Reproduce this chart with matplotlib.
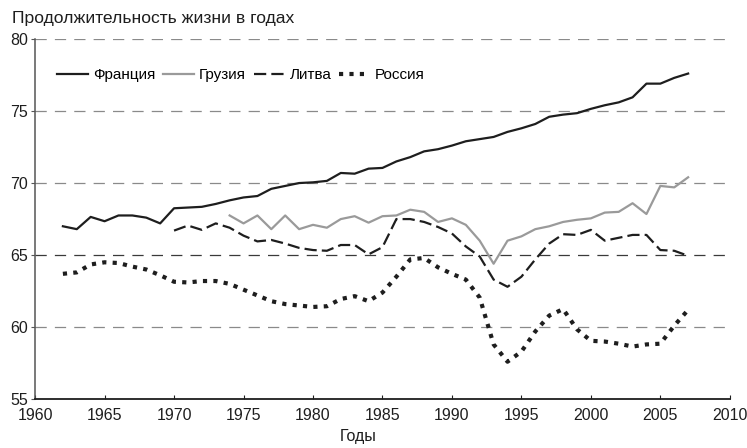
import matplotlib
matplotlib.use('Agg')
import matplotlib.pyplot as plt
from matplotlib import font_manager

names = {f.name for f in font_manager.fontManager.ttflist}
base = 'Liberation Sans Narrow' if 'Liberation Sans Narrow' in names else 'Liberation Sans'
plt.rcParams['font.family'] = [base, 'DejaVu Sans']

# --- data ---
years_fr = list(range(1962, 2008))
france = [67.0, 66.8, 67.65, 67.35, 67.75, 67.75, 67.6, 67.2, 68.25, 68.3,
          68.35, 68.55, 68.8, 69.0, 69.1, 69.6, 69.8, 70.0, 70.05, 70.15,
          70.7, 70.65, 71.0, 71.05, 71.5, 71.8, 72.2, 72.35, 72.6, 72.9,
          73.05, 73.2, 73.55, 73.8, 74.1, 74.6, 74.75, 74.85, 75.15, 75.4,
          75.6, 75.95, 76.9, 76.9, 77.3, 77.6]

years_ge = list(range(1974, 2008))
georgia = [67.75, 67.2, 67.75, 66.8, 67.75, 66.8, 67.1, 66.9, 67.5, 67.7,
           67.25, 67.7, 67.75, 68.15, 68.0, 67.3, 67.55, 67.1, 66.0, 64.4,
           66.0, 66.3, 66.8, 67.0, 67.3, 67.45, 67.55, 67.95, 68.0, 68.6,
           67.85, 69.8, 69.7, 70.4]

years_lt = list(range(1970, 2008))
lithuania = [66.7, 67.05, 66.75, 67.2, 66.9, 66.35, 65.95, 66.05, 65.8, 65.5,
             65.35, 65.3, 65.7, 65.7, 65.05, 65.55, 67.5, 67.5, 67.3, 66.95,
             66.5, 65.6, 64.9, 63.3, 62.8, 63.5, 64.7, 65.8, 66.45, 66.4,
             66.75, 66.0, 66.2, 66.4, 66.4, 65.35, 65.3, 64.95]

years_ru = list(range(1962, 2008))
russia = [63.7, 63.8, 64.35, 64.5, 64.45, 64.2, 64.0, 63.6, 63.15, 63.1,
          63.2, 63.2, 63.0, 62.6, 62.2, 61.8, 61.6, 61.5, 61.4, 61.45,
          61.95, 62.15, 61.8, 62.4, 63.5, 64.7, 64.8, 64.15, 63.7, 63.3,
          62.05, 58.8, 57.6, 58.3, 59.7, 60.8, 61.25, 59.85, 59.05, 59.0,
          58.85, 58.65, 58.8, 58.85, 60.1, 61.2]

labels = ['Франция', 'Грузия', 'Литва', 'Россия']
yticks = [55, 60, 65, 70, 75, 80]
xticks = list(range(1960, 2011, 5))

fig = plt.figure(figsize=(7.47, 4.48), dpi=100)
ax = fig.add_axes([0.047, 0.109, 0.93, 0.804])

# dashed horizontal grid
for v in yticks[1:]:
    c = '#3a3a3a' if v == 65 else '#8a8a8a'
    ax.axhline(v, color=c, lw=0.9, dashes=(9, 6.5), zorder=1)

ax.plot(years_fr, france, color='#1e1e1e', lw=1.6, label=labels[0], zorder=3)
ax.plot(years_ge, georgia, color='#9a9a9a', lw=1.6, label=labels[1], zorder=3)
ax.plot(years_lt, lithuania, color='#1e1e1e', lw=1.6, dashes=(5.5, 2.3),
        label=labels[2], zorder=3)
ax.plot(years_ru, russia, color='#1e1e1e', lw=3.0, dashes=(1, 1.5),
        dash_capstyle='butt', label=labels[3], zorder=3)

ax.set_xlim(1960, 2010)
ax.set_ylim(55, 80)
ax.set_xticks(xticks)
ax.set_yticks(yticks)
ax.tick_params(axis='x', direction='in', length=3, labelsize=11.5, pad=6,
               color='#1e1e1e', labelcolor='#1e1e1e')
ax.tick_params(axis='y', direction='out', length=3, labelsize=11.5, pad=2,
               color='#555555', labelcolor='#1e1e1e')

for s in ['top', 'right']:
    ax.spines[s].set_visible(False)
ax.spines['left'].set_color('#555555')
ax.spines['left'].set_linewidth(1.1)
ax.spines['bottom'].set_color('#1e1e1e')
ax.spines['bottom'].set_linewidth(1.3)

leg = ax.legend(loc='center left', bbox_to_anchor=(0.012, 0.9), ncol=4,
                frameon=False, fontsize=11, handlelength=2.0,
                handletextpad=0.35, columnspacing=0.5)

fig.text(0.016, 0.958, 'Продолжительность жизни в годах', fontsize=12.6,
         color='#1e1e1e', va='center', ha='left')
fig.text(0.479, 0.025, 'Годы', fontsize=11.5, color='#1e1e1e',
         va='center', ha='center')

fig.savefig('out.png', dpi=100)
